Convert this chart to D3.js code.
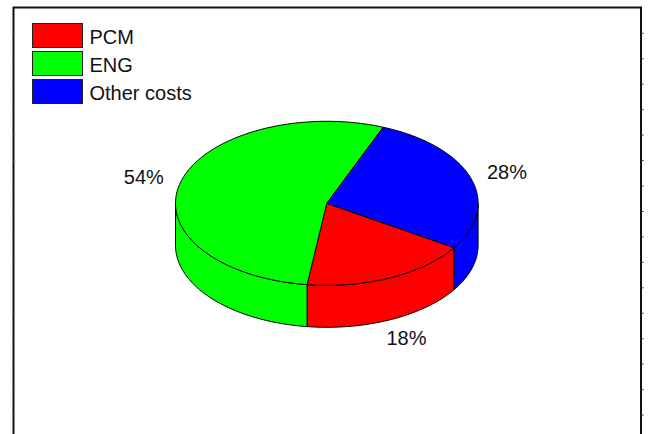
<!DOCTYPE html>
<html>
<head>
<meta charset="utf-8">
<script src="https://cdn.jsdelivr.net/npm/d3@7"></script>
<style>
  html, body { margin: 0; padding: 0; background: #fff; }
  svg { display: block; }
  text { font-family: "Liberation Sans", Arial, sans-serif; fill: #111; }
</style>
</head>
<body>
<svg id="chart" width="649" height="434"></svg>
<script>
// Cost shares
const categories = ["PCM", "ENG", "Other costs"];
const shares = [18, 54, 28];
const sliceColors = ["#ff0000", "#00ff00", "#0000ff"];

const W = 649, H = 434;
const svg = d3.select("#chart");

// Plot frame (open at the bottom)
const frame = { left: 13.5, top: 7.5, right: 641 };
svg.append("path")
  .attr("d", `M${frame.left},${H + 2}V${frame.top}H${frame.right}V${H + 2}`)
  .attr("fill", "none").attr("stroke", "#111").attr("stroke-width", 2);

// Tick marks along the frame sides
const tickY = d3.range(33.3, H, 25.45);
svg.append("g").selectAll("line").data(tickY).join("line")
  .attr("x1", frame.right).attr("x2", frame.right + 2.5)
  .attr("y1", d => d).attr("y2", d => d)
  .attr("stroke", "#333").attr("stroke-width", 1);
svg.append("g").selectAll("line").data(tickY).join("line")
  .attr("x1", frame.left + 1).attr("x2", frame.left + 2.5)
  .attr("y1", d => d).attr("y2", d => d)
  .attr("stroke", "#ccc").attr("stroke-width", 1);

// 3D pie geometry
const cx = 326.8, cy = 203.3, rx = 151.3, ry = 82, depth = 42;
const deg = Math.PI / 180;
const pie = d3.pie().sort(null).value(d => d)
  .startAngle(122.7 * deg).endAngle(122.7 * deg + 2 * Math.PI);
const arcs = pie(shares).map((a, i) => ({ ...a, i }));

const px = a => cx + rx * Math.sin(a);
const py = a => cy - ry * Math.cos(a);

function ellipseArc(a0, a1, dyOff) {
  const steps = Math.max(2, Math.ceil(Math.abs(a1 - a0) / (1 * deg)));
  const pts = [];
  for (let k = 0; k <= steps; k++) {
    const a = a0 + (a1 - a0) * k / steps;
    pts.push([px(a), py(a) + dyOff]);
  }
  return pts;
}

// Front wall: visible between 90° and 270°
const sides = svg.append("g");
arcs.forEach(a => {
  [0, 2 * Math.PI].forEach(shift => {
    const s0 = Math.max(a.startAngle - shift, 90 * deg);
    const s1 = Math.min(a.endAngle - shift, 270 * deg);
    if (s1 <= s0) return;
    const top = ellipseArc(s0, s1, 0);
    const bottom = ellipseArc(s1, s0, depth);
    sides.append("path")
      .attr("d", d3.line()(top.concat(bottom)) + "Z")
      .attr("fill", sliceColors[a.i])
      .attr("stroke", "#000").attr("stroke-width", 1)
      .attr("stroke-linejoin", "round");
  });
});

// Top face
const tops = svg.append("g");
arcs.forEach(a => {
  const pts = [[cx, cy]].concat(ellipseArc(a.startAngle, a.endAngle, 0));
  tops.append("path")
    .attr("d", d3.line()(pts) + "Z")
    .attr("fill", sliceColors[a.i])
    .attr("stroke", "#000").attr("stroke-width", 1)
    .attr("stroke-linejoin", "round");
});

// Percentage labels
const total = d3.sum(shares);
svg.append("g").selectAll("text").data(arcs).join("text")
  .attr("x", d => cx + 1.25 * rx * Math.sin((d.startAngle + d.endAngle) / 2))
  .attr("y", d => {
    const c = Math.cos((d.startAngle + d.endAngle) / 2);
    return cy - 1.25 * ry * c + (c < 0 ? depth : 0);
  })
  .attr("dy", "0.36em")
  .attr("text-anchor", "middle")
  .attr("font-size", 20)
  .text(d => Math.round(d.data / total * 100) + "%");

// Legend
const legend = svg.append("g").attr("transform", "translate(32.5,23.5)");
const item = legend.selectAll("g").data(categories).join("g")
  .attr("transform", (d, i) => `translate(0,${i * 28})`);
item.append("rect")
  .attr("width", 50).attr("height", 24)
  .attr("fill", (d, i) => sliceColors[i])
  .attr("stroke", "#222").attr("stroke-width", 1);
item.append("text")
  .attr("x", 57).attr("y", 20)
  .attr("font-size", 20)
  .text(d => d);
</script>
</body>
</html>
